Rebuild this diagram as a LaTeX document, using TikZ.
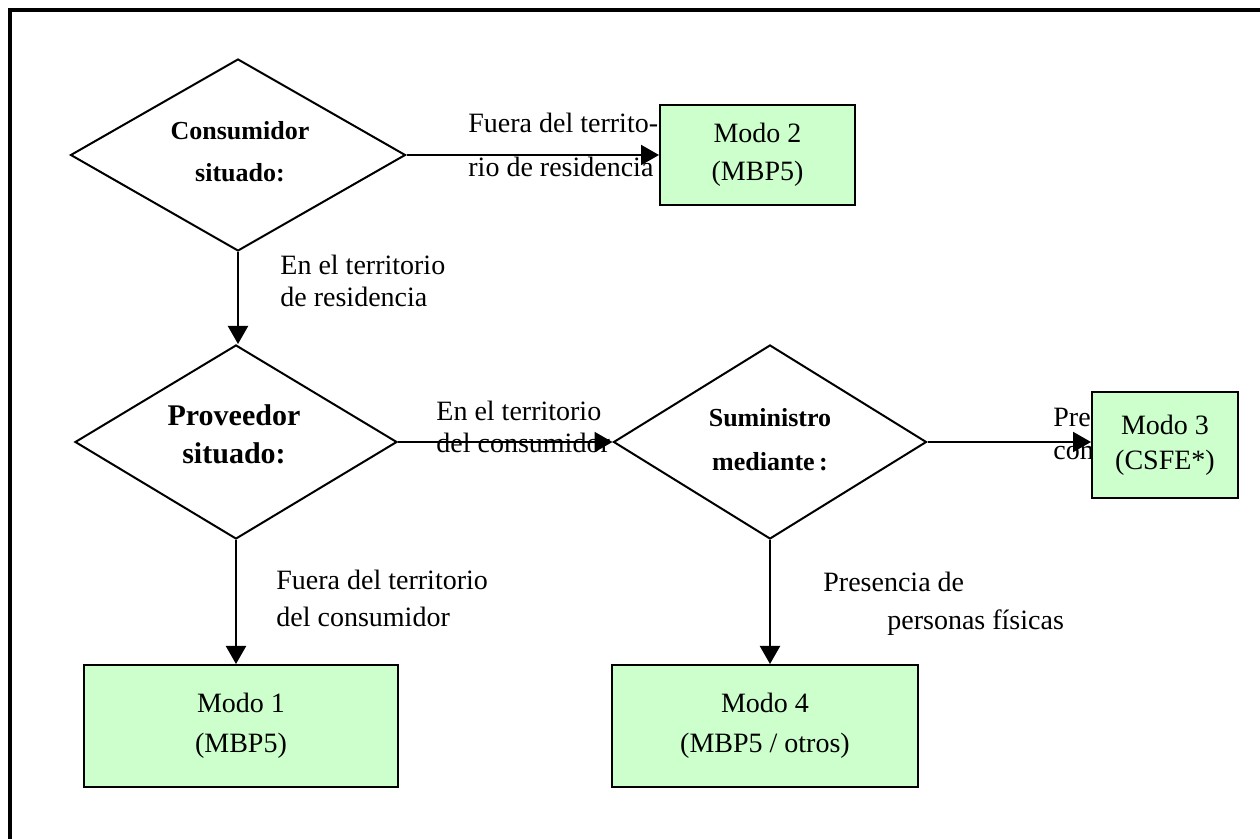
\documentclass[tikz,border=0pt]{standalone}
\usepackage{fontspec}
\setmainfont{Liberation Serif}
\usetikzlibrary{shapes.geometric,arrows.meta}
\definecolor{modegreen}{HTML}{CCFFCC}
\begin{document}
\begin{tikzpicture}[x=0.5pt,y=-0.5pt,
  dec/.style={draw,shape=diamond,line width=1pt,inner sep=0pt},
  modebox/.style={draw,fill=modegreen,line width=1pt,inner sep=0pt,align=center},
  lbl/.style={font=\fontsize{14}{16}\selectfont,inner sep=0pt,anchor=mid west},
  dtxt/.style={inner sep=0pt,align=center},
  arr/.style={-{Triangle[length=9pt,width=10pt]},line width=1pt}]
\useasboundingbox (0,0) rectangle (1260,839);
\draw[line width=2pt] (10,839) -- (10,10.5) -- (1260,10.5);

% decisions
\node[dec,minimum width=167.5pt,minimum height=96pt] (d1) at (238,155) {};
\node[dec,minimum width=161pt,minimum height=97pt] (d2) at (236,442) {};
\node[dec,minimum width=156.5pt,minimum height=97pt] (d3) at (770,442) {};
\node[dtxt,font=\bfseries\fontsize{13}{21}\selectfont] (t1) at (240,152) {Consumidor\\situado:};
\node[dtxt,font=\bfseries\fontsize{15}{19}\selectfont] (t2) at (234,434) {Proveedor\\situado:};
\node[dtxt,font=\bfseries\fontsize{13}{22}\selectfont] (t3) at (770,440) {Suministro\\mediante\,:};

% labels
\node[lbl] (l1a) at (468,128) {Fuera del territo-};
\node[lbl] (l1b) at (468,172) {rio de residencia};
\node[lbl] (l2a) at (280,270) {En el territorio};
\node[lbl] (l2b) at (280,302) {de residencia};
\node[lbl] (l3a) at (436,416) {En el territorio};
\node[lbl] (l3b) at (436,448) {del consumidor};
\node[lbl] (l4a) at (1053,422) {Presencia};
\node[lbl] (l4b) at (1053,455) {comercial};
\node[lbl] (l5a) at (276,585) {Fuera del territorio};
\node[lbl] (l5b) at (276,622) {del consumidor};
\node[lbl] (l6a) at (823,587) {Presencia de};
\node[lbl] (l6b) at (887,625) {personas físicas};

% mode boxes
\node[modebox,minimum width=97.5pt,minimum height=50pt,font=\fontsize{14}{19}\selectfont] (m2) at (757.5,155) {Modo 2\\(MBP5)};
\node[modebox,minimum width=73pt,minimum height=53pt,font=\fontsize{14}{17.5}\selectfont] (m3) at (1165,445) {Modo 3\\(CSFE*)};
\node[modebox,minimum width=157pt,minimum height=61pt,font=\fontsize{14}{20}\selectfont] (m1) at (241,726) {Modo 1\\(MBP5)};
\node[modebox,minimum width=153pt,minimum height=61pt,font=\fontsize{14}{20}\selectfont] (m4) at (765,726) {Modo 4\\(MBP5 / otros)};

% connectors
\draw[arr] (d1.east) -- (d1.east -| m2.west);
\draw[arr] (d1.south) -- (d1.south |- d2.north);
\draw[arr] (d2.east) -- (d3.west);
\draw[arr] (d3.east) -- (d3.east -| m3.west);
\draw[arr] (d2.south) -- (d2.south |- m1.north);
\draw[arr] (d3.south) -- (d3.south |- m4.north);
\end{tikzpicture}
\end{document}
